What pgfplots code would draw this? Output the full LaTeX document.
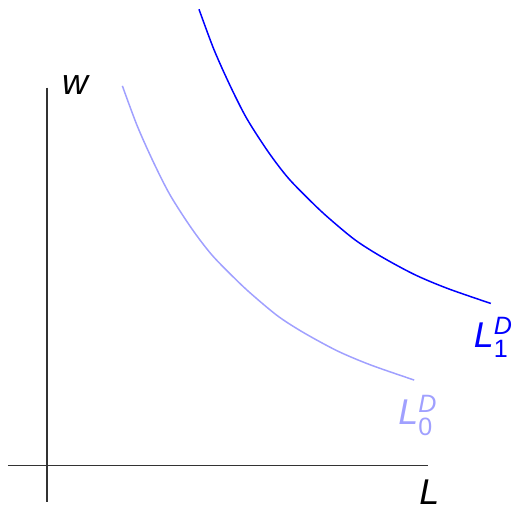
\documentclass[border=0pt]{standalone}
\usepackage{pgfplots}
\pgfplotsset{compat=1.18}
\usepackage{amsmath}
\usepackage{fontspec}
\setmainfont{Liberation Sans}
\definecolor{darkblue}{RGB}{0,0,255}
\definecolor{lightblue}{RGB}{160,160,255}
\newcommand\lab[1]{\itshape L$^{\text{\itshape D}}_{\text{\upshape #1}}$}
\tikzset{bigfont/.style={font=\fontsize{18}{20}\selectfont, inner sep=0pt}}
\begin{document}
\begin{tikzpicture}
\begin{axis}[
  x=0.5pt, y=0.5pt,
  xmin=0, xmax=513, ymin=0, ymax=509,
  axis lines=none, clip=false,
]
\addplot[draw=none, forget plot] coordinates {(0,0) (513,509)};
% axes
\addplot[line width=0.75pt, black!80] coordinates {(47,421) (47,4)};
\addplot[line width=0.75pt, black!80] coordinates {(8,41) (430,41)};
% L1 demand (dark)
\addplot[line width=0.75pt, darkblue, smooth] coordinates {
(200,499.7) (215,459.3) (231.7,422) (248.3,389.4) (270,355.8) (290,329.7)
(313.3,305.8) (330,290.2) (356.7,268) (383.3,251) (416.7,233)
(450,219) (493.3,204)};
% L0 demand (light)
\addplot[line width=0.75pt, lightblue, smooth] coordinates {
(123,422.7) (138,382.3) (154.7,345) (171.3,312.4) (193,278.8) (213,252.7)
(236.3,228.8) (253,213.2) (279.7,191) (306.3,174) (339.7,156) (373,142)
(416.3,127)};
\node[bigfont, anchor=base west, text=darkblue] at (axis cs:476,160) {\lab{1}};
\node[bigfont, anchor=base west, text=lightblue] at (axis cs:400,82) {\lab{0}};
\node[bigfont, anchor=base west] at (axis cs:62,414) {\itshape w};
\node[bigfont, anchor=base west] at (axis cs:421,2) {\itshape L};
\end{axis}
\end{tikzpicture}
\end{document}
